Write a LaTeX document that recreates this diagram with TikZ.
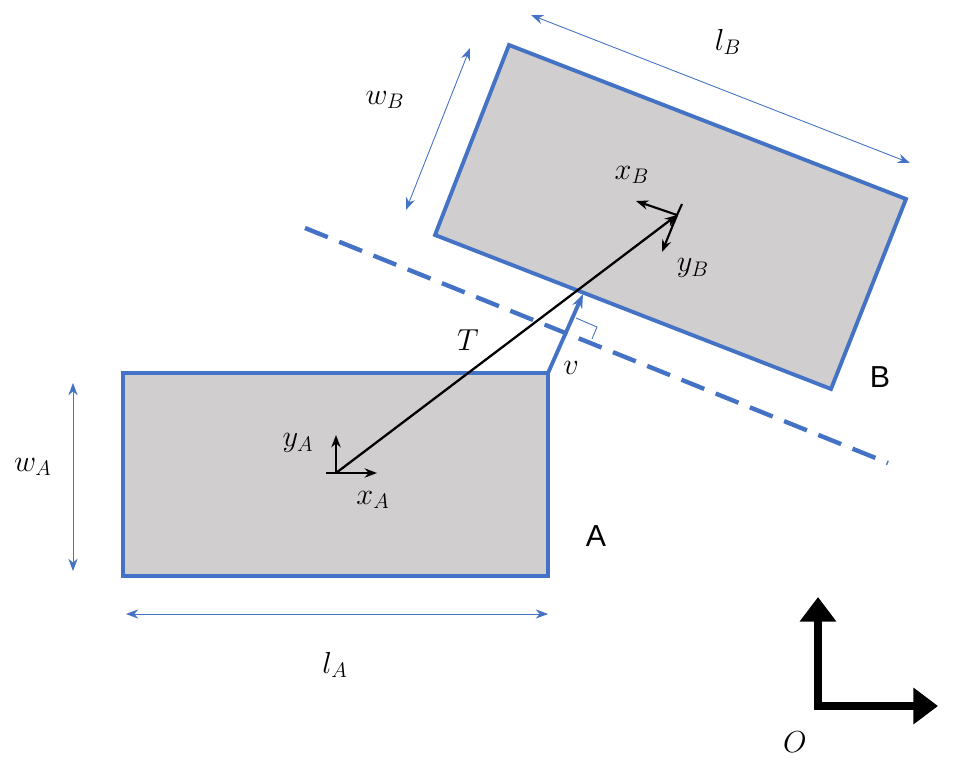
\documentclass[tikz,border=0pt]{standalone}
\usetikzlibrary{arrows.meta}
\usepackage{fontspec}
\setsansfont{Liberation Sans}
\definecolor{bl}{RGB}{68,114,196}
\definecolor{gr}{RGB}{208,206,206}
\begin{document}
\begin{tikzpicture}[x=0.02cm,y=-0.02cm,
 box/.style={draw=bl,line width=2.2pt,fill=gr},
 dim/.style={bl,line width=0.5pt,{Stealth[length=7pt]}-{Stealth[length=7pt]}},
 ax/.style={black,line width=1.2pt,-{Stealth[length=7pt]}},
 lab/.style={font=\LARGE}]
\useasboundingbox (0,0) rectangle (964,770);
\draw[box] (123,373) coordinate(a1) rectangle (548,576);
\coordinate (a2) at (548,373);
\draw[box] (509,45) -- (906,199) -- (831,389) -- (435,235) -- cycle;
\coordinate (d1) at (305,228); \coordinate (d2) at (888,463);
\draw[bl,line width=2.5pt,dash pattern=on 14pt off 7pt] (d1) -- (d2);
\coordinate (vt) at (583,294);
\draw[bl,line width=2.2pt,-{Stealth[length=8pt]}] (a2) -- (vt);
\draw[bl,line width=0.5pt] (576,318) -- (597,327) -- (592,339);
\coordinate (ca) at (336,473); \coordinate (cb) at (677,215);
\draw[black,line width=1.3pt,-{Stealth[length=7pt]}] (ca) -- (cb);
\draw[ax] (ca) -- (336,435); \draw[ax] (ca) -- (377,473);
\draw[black,line width=1.2pt] (326,473) -- (346,473);
\draw[ax] (cb) -- (636,201); \draw[ax] (cb) -- (662,252);
\draw[black,line width=1.2pt] (672,226) -- (682,204);
\draw[dim] (73,383) -- (73,571);
\draw[dim] (126,614) -- (548,614);
\draw[dim] (470,48) -- (406,210);
\draw[dim] (531,15) -- (910,163);
\coordinate (o) at (818,706);
\draw[black,line width=4pt,-{Triangle[length=14pt,width=20pt]}] (o) -- (818,597);
\draw[black,line width=4pt,-{Triangle[length=14pt,width=20pt]}] ([xshift=-2pt]o) -- (938,706);
\node[lab] (lwb) at (385,100) {$w_B$};
\node[lab] (llb) at (728,42) {$l_B$};
\node[lab] (lxb) at (632,175) {$x_B$};
\node[lab] (lyb) at (693,268) {$y_B$};
\node[lab] (lt) at (468,340) {$T$};
\node[lab] (lv) at (571,368) {$v$};
\node[lab,font=\sffamily\LARGE] (lB) at (880,377) {B};
\node[lab,font=\sffamily\LARGE] (lA) at (596,536) {A};
\node[lab] (lwa) at (33,467) {$w_A$};
\node[lab] (lla) at (335,665) {$l_A$};
\node[lab] (lya) at (298,443) {$y_A$};
\node[lab] (lxa) at (373,500) {$x_A$};
\node[lab] (lo) at (795,742) {$O$};
\end{tikzpicture}
\end{document}
